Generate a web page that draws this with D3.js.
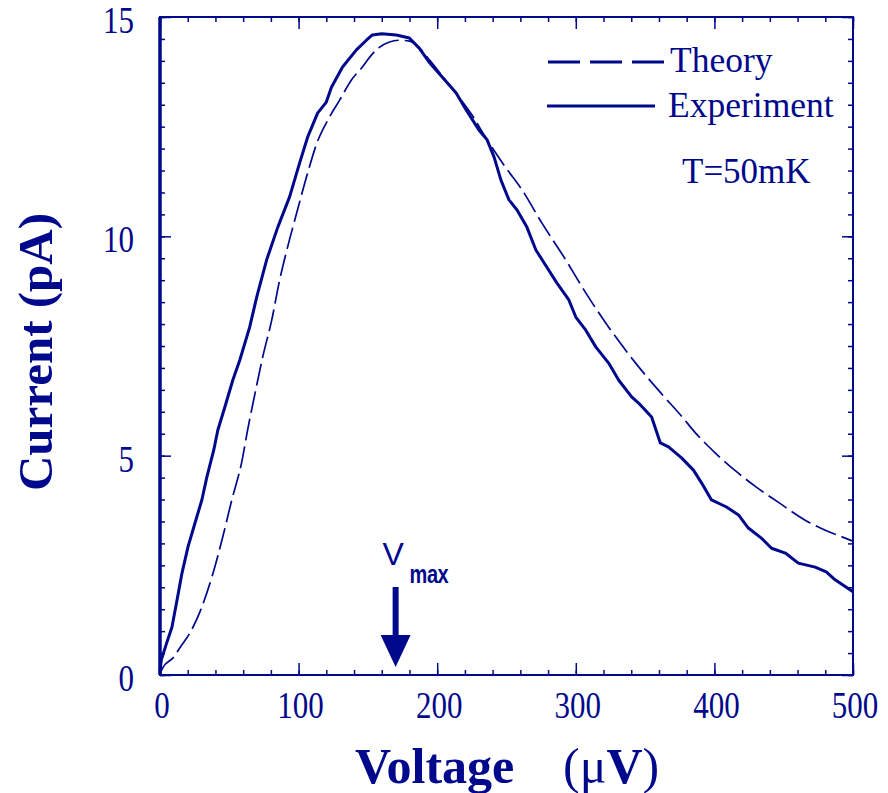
<!DOCTYPE html>
<html>
<head>
<meta charset="utf-8">
<script src="https://cdn.jsdelivr.net/npm/d3@7"></script>
<style>
  body { margin: 0; background: #fff; }
  svg { display: block; }
</style>
</head>
<body>
<div id="chart"></div>
<script>
// tick values
const voltTicks = [0, 100, 200, 300, 400, 500];
const currTicks = [0, 5, 10, 15];

// experiment curve (voltage in uV, current in pA)
const expV = [0, 1, 3, 5, 8.6, 12.3, 15.9, 20.2, 25.2, 30.2, 33.8, 38.8, 41.7, 46.8, 52.5, 57.6, 64.7, 69.8,
  76.9, 85, 93.5, 100.7, 106.5, 113.7, 120, 123.7, 131.7, 141.7, 148.9, 153.2, 160, 170.5, 179.9, 187,
  194.2, 203.6, 213.7, 220.9, 230.2, 236, 241, 246, 251.8, 257.6, 264.7, 271.2, 279, 286.3, 295, 300,
  307.2, 314.4, 323.7, 331, 340.3, 345.3, 354.7, 361, 366.9, 376.3, 384.9, 390.7, 397.9, 408.7, 417.4,
  424.5, 433.9, 441.2, 451.2, 460.5, 472.7, 480.7, 487.1, 500];
const expI = [0.1, 0.35, 0.55, 0.75, 1.09, 1.71, 2.33, 2.92, 3.46, 3.99, 4.51, 5.13, 5.58, 6.11, 6.72, 7.18, 7.93, 8.62,
  9.46, 10.21, 10.9, 11.67, 12.26, 12.81, 13.06, 13.4, 13.86, 14.25, 14.47, 14.59, 14.62, 14.59, 14.52, 14.29,
  13.97, 13.63, 13.27, 12.88, 12.42, 12.2, 11.81, 11.28, 10.83, 10.6, 10.21, 9.69, 9.3, 8.94, 8.55, 8.16,
  7.86, 7.48, 7.11, 6.72, 6.34, 6.2, 5.88, 5.29, 5.2, 4.95, 4.67, 4.38, 3.99, 3.83, 3.65,
  3.35, 3.12, 2.89, 2.78, 2.55, 2.46, 2.35, 2.17, 1.9];

// theory curve
const theoryV = [0, 2.3, 9.4, 15, 21.6, 28.8, 37.4, 45.3, 51.8, 59, 63.3, 68.3, 74.1, 80.6, 86.3, 92.1, 98.6,
  106.5, 112.9, 122.3, 129.5, 138, 146, 152.5, 158, 165.5, 172.7, 180, 187, 195, 205, 215, 225, 235,
  249.6, 261.2, 275.6, 292.8, 307.2, 323.7, 343.2, 364.7, 376.3, 386.3, 400.7, 417.3, 429.5, 446,
  465.5, 480, 494.4, 500];
const theoryI = [0.03, 0.18, 0.39, 0.65, 0.96, 1.44, 2.23, 3.15, 3.99, 4.86, 5.6, 6.38, 7.25, 8.09, 9.0, 9.76, 10.53,
  11.44, 12.1, 12.72, 13.1, 13.56, 13.86, 14.13, 14.3, 14.43, 14.47, 14.45, 14.3, 14.0, 13.6, 13.2, 12.77, 12.25,
  11.56, 11.06, 10.3, 9.46, 8.71, 7.93, 7.11, 6.31, 5.9, 5.52, 5.06, 4.6, 4.3, 3.94,
  3.53, 3.3, 3.12, 3.05];

const legendLabels = ['Theory', 'Experiment'];
const vmax = 170;

const ink = '#00088c';
const width = 888, height = 793;

const svg = d3.select('#chart').append('svg')
    .attr('width', width)
    .attr('height', height)
    .style('font-family', '"Liberation Serif", "DejaVu Serif", serif');

const x = d3.scaleLinear().domain([0, 500]).range([160, 853]);
const y = d3.scaleLinear().domain([0, 15]).range([675, 17]);

// ticks on all four sides, pointing inward
function styleAxis(g) {
    g.select('.domain').remove();
    g.selectAll('line').attr('stroke', ink).attr('stroke-width', 1.5);
}
const minorV = d3.range(0, 501, 20);
const minorI = d3.range(0, 15.01, 0.5);

svg.append('g').attr('transform', `translate(0,${y(0)})`)
    .call(d3.axisBottom(x).tickValues(minorV).tickSize(-5).tickFormat('')).call(styleAxis);
svg.append('g').attr('transform', `translate(0,${y(0)})`)
    .call(d3.axisBottom(x).tickValues(voltTicks).tickSize(-12).tickFormat('')).call(styleAxis);
svg.append('g').attr('transform', `translate(0,${y(15)})`)
    .call(d3.axisTop(x).tickValues(minorV).tickSize(-5).tickFormat('')).call(styleAxis);
svg.append('g').attr('transform', `translate(0,${y(15)})`)
    .call(d3.axisTop(x).tickValues(voltTicks).tickSize(-12).tickFormat('')).call(styleAxis);
svg.append('g').attr('transform', `translate(${x(0)},0)`)
    .call(d3.axisLeft(y).tickValues(minorI).tickSize(-5).tickFormat('')).call(styleAxis);
svg.append('g').attr('transform', `translate(${x(0)},0)`)
    .call(d3.axisLeft(y).tickValues(currTicks).tickSize(-11).tickFormat('')).call(styleAxis);
svg.append('g').attr('transform', `translate(${x(500)},0)`)
    .call(d3.axisRight(y).tickValues(minorI).tickSize(-5).tickFormat('')).call(styleAxis);
svg.append('g').attr('transform', `translate(${x(500)},0)`)
    .call(d3.axisRight(y).tickValues(currTicks).tickSize(-11).tickFormat('')).call(styleAxis);

// frame
svg.append('rect')
    .attr('x', x(0)).attr('y', y(15))
    .attr('width', x(500) - x(0)).attr('height', y(0) - y(15))
    .attr('fill', 'none').attr('stroke', ink).attr('stroke-width', 2);
svg.append('line')
    .attr('x1', x(0)).attr('x2', x(0)).attr('y1', y(15)).attr('y2', y(0))
    .attr('stroke', ink).attr('stroke-width', 3.5);

// tick labels (the scan has tall, narrow digits)
svg.selectAll('.xlab').data(voltTicks).enter().append('text')
    .attr('class', 'xlab')
    .attr('transform', d => `translate(${x(d) + 2},${y(0) + 43}) scale(1,1.2)`)
    .attr('text-anchor', 'middle')
    .attr('font-size', 31)
    .attr('fill', ink)
    .text(d => d);

svg.selectAll('.ylab').data(currTicks).enter().append('text')
    .attr('class', 'ylab')
    .attr('transform', d => `translate(134,${y(d) + 16}) scale(1,1.2)`)
    .attr('text-anchor', 'end')
    .attr('font-size', 31)
    .attr('fill', ink)
    .text(d => d);

// axis titles
const xt = svg.append('text')
    .attr('x', 355).attr('y', 783)
    .attr('font-size', 50)
    .attr('fill', ink);
xt.append('tspan').attr('font-weight', 'bold').text('Voltage');
xt.append('tspan').attr('x', 563).text('(\u03bc');
xt.append('tspan').attr('font-weight', 'bold').text('V');
xt.append('tspan').text(')');

svg.append('text')
    .attr('transform', 'translate(52,352) rotate(-90)')
    .attr('text-anchor', 'middle')
    .attr('font-size', 49)
    .attr('font-weight', 'bold')
    .attr('fill', ink)
    .text('Current (pA)');

// curves
const expData = expV.map((v, i) => [v, expI[i]]);
const theoryData = theoryV.map((v, i) => [v, theoryI[i]]);

svg.append('path')
    .datum(theoryData)
    .attr('d', d3.line().x(d => x(d[0])).y(d => y(d[1])).curve(d3.curveMonotoneX))
    .attr('fill', 'none')
    .attr('stroke', ink)
    .attr('stroke-width', 1.7)
    .attr('stroke-dasharray', '22,6');

svg.append('path')
    .datum(expData)
    .attr('d', d3.line().x(d => x(d[0])).y(d => y(d[1])))
    .attr('fill', 'none')
    .attr('stroke', ink)
    .attr('stroke-width', 3)
    .attr('stroke-linejoin', 'round');

// legend
const legend = svg.append('g');
legend.append('line')
    .attr('x1', 548).attr('x2', 665).attr('y1', 62).attr('y2', 62)
    .attr('stroke', ink).attr('stroke-width', 3).attr('stroke-dasharray', '32,10');
legend.append('line')
    .attr('x1', 547).attr('x2', 655).attr('y1', 106).attr('y2', 106)
    .attr('stroke', ink).attr('stroke-width', 3);
legend.selectAll('.leg').data(legendLabels).enter().append('text')
    .attr('class', 'leg')
    .attr('x', (d, i) => i === 0 ? 670 : 668)
    .attr('y', (d, i) => i === 0 ? 72 : 117)
    .attr('font-size', 35.5)
    .attr('fill', ink)
    .text(d => d);
legend.append('text')
    .attr('x', 682).attr('y', 183)
    .attr('font-size', 35)
    .attr('fill', ink)
    .text('T=50mK');

// V_max marker
const ax = x(vmax);
const tip = y(0) - 8;
svg.append('line')
    .attr('x1', ax).attr('x2', ax).attr('y1', tip - 80).attr('y2', tip - 28)
    .attr('stroke', ink).attr('stroke-width', 6);
svg.append('path')
    .attr('d', `M${ax - 15},${tip - 32} L${ax + 15},${tip - 32} L${ax},${tip} Z`)
    .attr('fill', ink);
svg.append('text')
    .attr('x', ax - 13).attr('y', tip - 102)
    .attr('font-size', 32)
    .attr('fill', ink)
    .style('font-family', '"Liberation Sans", Arial, sans-serif')
    .text('V');
svg.append('text')
    .attr('transform', `translate(${ax + 14},${tip - 84}) scale(1,1.3)`)
    .attr('font-size', 20)
    .attr('font-weight', 'bold')
    .attr('letter-spacing', -0.5)
    .attr('fill', ink)
    .style('font-family', '"Liberation Sans", Arial, sans-serif')
    .text('max');
</script>
</body>
</html>
